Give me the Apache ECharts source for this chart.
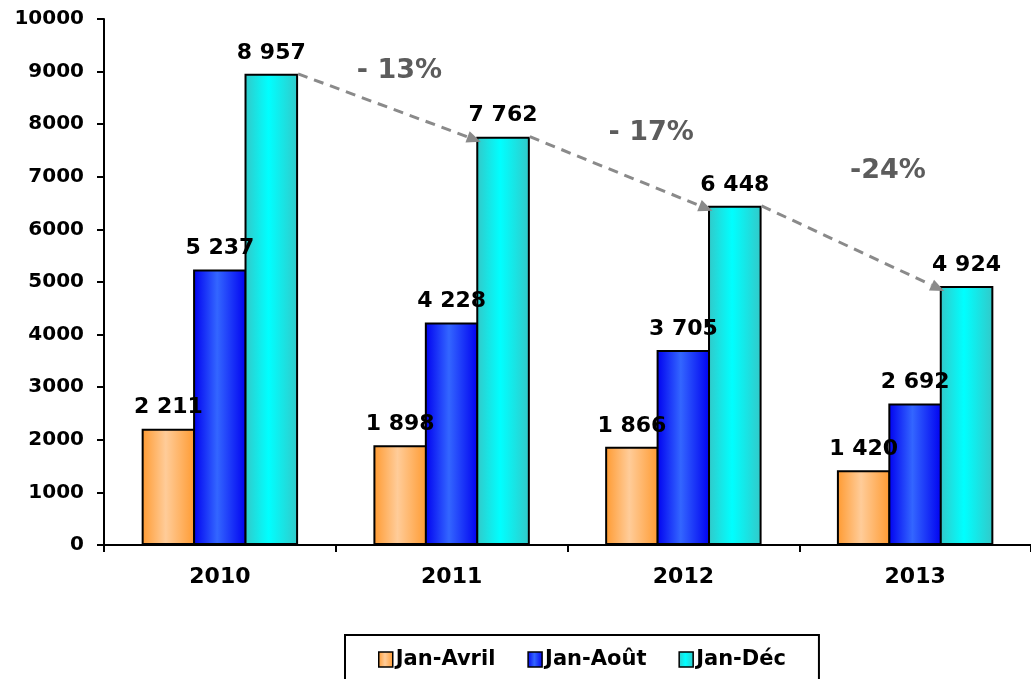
<!DOCTYPE html>
<html>
<head>
<meta charset="utf-8">
<script src="https://cdn.jsdelivr.net/npm/echarts@6/dist/echarts.min.js"></script>
<style>html,body{margin:0;padding:0;background:#fff;}#c{width:1031px;height:679px;}</style>
</head>
<body>
<div id="c"></div>
<script>
const categories = ['2010', '2011', '2012', '2013'];
const janAvril = [2211, 1898, 1866, 1420];
const janAout = [5237, 4228, 3705, 2692];
const janDec = [8957, 7762, 6448, 4924];
const changeLabels = ['- 13%', '- 17%', '-24%'];
const seriesNames = ['Jan-Avril', 'Jan-Août', 'Jan-Déc'];

const FONT = "'DejaVu Sans', Verdana, sans-serif";
const CAT_GAP = 0.325;
const labelOffsets = [[10, -37], [30, -41], [35, -77]];

function grad(edge, center) {
  return new echarts.graphic.LinearGradient(0, 0, 1, 0, [
    { offset: 0, color: edge },
    { offset: 0.45, color: center },
    { offset: 1, color: edge }
  ]);
}
function fmt(v) {
  return String(v).replace(/\B(?=(\d{3})+(?!\d))/g, ' ');
}
const barLabel = {
  show: true, position: 'top', distance: 10,
  fontFamily: FONT, fontWeight: 'bold', fontSize: 22, color: '#000',
  formatter: p => fmt(p.value)
};
function barSeries(name, data, edge, center) {
  return {
    name, type: 'bar', data, barGap: '-4%', barCategoryGap: (CAT_GAP * 100) + '%',
    itemStyle: { color: grad(edge, center), borderColor: '#000', borderWidth: 2 },
    label: barLabel, emphasis: { disabled: true }
  };
}

const chart = echarts.init(document.getElementById('c'));
chart.setOption({
  animation: false,
  backgroundColor: '#fff',
  grid: { left: 104, right: -9, top: 19, bottom: 134 },
  legend: {
    data: seriesNames, left: 345, top: 635,
    padding: [14, 33, 40, 33], itemGap: 32,
    borderColor: '#000', borderWidth: 2,
    itemWidth: 14, itemHeight: 15, icon: 'rect',
    itemStyle: { borderColor: '#000', borderWidth: 1.5 },
    textStyle: { fontFamily: FONT, fontWeight: 'bold', fontSize: 21, color: '#000', padding: [0, 0, 0, -2] },
    selectedMode: false
  },
  xAxis: {
    type: 'category', data: categories,
    axisLine: { lineStyle: { color: '#000', width: 2 } },
    axisTick: { show: true, length: 7, lineStyle: { color: '#000', width: 2 } },
    axisLabel: { margin: 21, fontFamily: FONT, fontWeight: 'bold', fontSize: 22, color: '#000' },
    splitLine: { show: false }
  },
  yAxis: {
    type: 'value', min: 0, max: 10000, interval: 1000,
    axisLine: { show: true, lineStyle: { color: '#000', width: 2 } },
    axisTick: { show: true, length: 7, lineStyle: { color: '#000', width: 2 } },
    axisLabel: { margin: 20, fontFamily: FONT, fontWeight: 'bold', fontSize: 20, color: '#000',
                 formatter: v => String(v) },
    splitLine: { show: false }
  },
  series: [
    barSeries(seriesNames[0], janAvril, '#FF9a30', '#FFCC99'),
    barSeries(seriesNames[1], janAout, '#0000F0', '#3366FF'),
    barSeries(seriesNames[2], janDec, '#33C8C8', '#00FFFF'),
    {
      type: 'custom', name: 'trend', silent: true, z: 10,
      data: changeLabels.map((l, i) => [i, janDec[i], janDec[i + 1]]),
      renderItem: function (params, api) {
        const i = params.dataIndex;
        const catW = api.size([1, 0])[0];
        const bw = catW * (1 - CAT_GAP) / 3;
        const p0 = api.coord([i, api.value(1)]);
        const p1 = api.coord([i + 1, api.value(2)]);
        const x1 = p0[0] + 1.5 * bw, y1 = p0[1];
        const x2 = p1[0] + 0.5 * bw + 3, y2 = p1[1] + 5;
        const dx = x2 - x1, dy = y2 - y1, len = Math.sqrt(dx * dx + dy * dy);
        const ux = dx / len, uy = dy / len;
        const hl = 14, hw = 6;
        const bx = x2 - ux * hl, by = y2 - uy * hl;
        const mx = (x1 + x2) / 2, my = (y1 + y2) / 2;
        const off = labelOffsets[i];
        return {
          type: 'group',
          children: [
            { type: 'line', shape: { x1: x1, y1: y1, x2: bx, y2: by },
              style: { stroke: '#8a8a8a', lineWidth: 3, lineDash: [10, 7] } },
            { type: 'polygon', shape: { points: [[x2, y2], [bx - uy * hw, by + ux * hw], [bx + uy * hw, by - ux * hw]] },
              style: { fill: '#8a8a8a' } },
            { type: 'text', x: mx + off[0], y: my + off[1],
              style: { text: changeLabels[i], fill: '#5c5c5c', font: 'bold 27px ' + FONT,
                       align: 'center', verticalAlign: 'middle' } }
          ]
        };
      }
    }
  ]
});
</script>
</body>
</html>
